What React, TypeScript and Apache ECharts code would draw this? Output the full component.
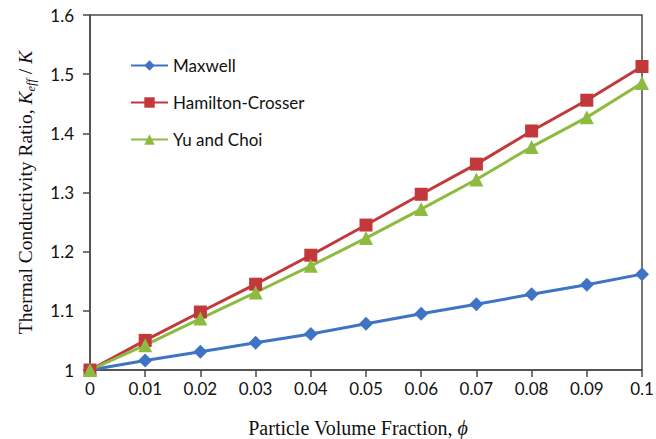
import React, { useEffect, useRef } from "react";
import * as echarts from "echarts";

const phi = [0, 0.01, 0.02, 0.03, 0.04, 0.05, 0.06, 0.07, 0.08, 0.09, 0.1];
const maxwell = [1, 1.016, 1.031, 1.046, 1.061, 1.078, 1.095, 1.111, 1.128, 1.144, 1.162];
const hamiltonCrosser = [1, 1.05, 1.098, 1.145, 1.194, 1.245, 1.297, 1.348, 1.404, 1.456, 1.513];
const yuChoi = [1, 1.042, 1.087, 1.131, 1.176, 1.223, 1.272, 1.322, 1.377, 1.427, 1.485];
const seriesNames = ["Maxwell", "Hamilton-Crosser", "Yu and Choi"];

const fmt = (v: number) => String(parseFloat(v.toFixed(2)));
const axisColor = "#4a4a4a";
const labelFont = "Lato, 'Open Sans', sans-serif";
const serif = "'Liberation Serif', 'DejaVu Serif', serif";

export default function App() {
  const ref = useRef<HTMLDivElement>(null);
  useEffect(() => {
    if (!ref.current) return;
    const chart = echarts.init(ref.current, undefined, { renderer: "svg" });
    const mk = (name: string, vals: number[], color: string, symbol: string, size: number) => ({
      name,
      type: "line",
      data: phi.map((p, i) => [p, vals[i]]),
      symbol,
      symbolSize: size,
      lineStyle: { color, width: 3 },
      itemStyle: { color },
      z: 3,
    });
    chart.setOption({
      animation: false,
      backgroundColor: "#ffffff",
      grid: {
        left: 90,
        right: 14,
        top: 15,
        bottom: 69,
        outerBoundsMode: "none",
        containLabel: false,
        show: true,
        borderColor: axisColor,
        borderWidth: 1.5,
        backgroundColor: "transparent",
      },
      legend: {
        orient: "vertical",
        left: 125,
        top: 52,
        itemGap: 20,
        itemWidth: 37,
        itemHeight: 13,
        data: seriesNames,
        textStyle: { fontFamily: labelFont, fontSize: 17, color: "#111" },
      },
      xAxis: {
        type: "value",
        min: 0,
        max: 0.1,
        interval: 0.01,
        splitLine: { show: false },
        axisLine: { lineStyle: { color: axisColor, width: 1.5 } },
        axisTick: { show: true, length: 7, lineStyle: { color: axisColor, width: 1.5 } },
        axisLabel: {
          formatter: fmt,
          fontFamily: labelFont,
          fontSize: 17,
          color: "#111",
          margin: 10,
        },
        name: "{a|Particle Volume Fraction, }{i|\u03d5}",
        nameLocation: "middle",
        nameGap: 46,
        nameTextStyle: {
          padding: [0, 16, 0, 0],
          rich: {
            a: { fontFamily: serif, fontSize: 20, color: "#111", lineHeight: 24 },
            i: { fontFamily: serif, fontSize: 20, fontStyle: "italic", color: "#111", lineHeight: 24 },
          },
        },
      },
      yAxis: {
        type: "value",
        min: 1,
        max: 1.6,
        interval: 0.1,
        splitLine: { show: false },
        axisLine: { show: true, lineStyle: { color: axisColor, width: 1.5 } },
        axisTick: { show: true, length: 7, lineStyle: { color: axisColor, width: 1.5 } },
        axisLabel: {
          formatter: fmt,
          fontFamily: labelFont,
          fontSize: 17,
          color: "#111",
          margin: 16,
        },
        name: "{a|Thermal Conductivity Ratio, }{i|K}{s|eff}{a| / }{i|K}",
        nameLocation: "middle",
        nameGap: 53,
        nameRotate: 90,
        nameTextStyle: {
          rich: {
            a: { fontFamily: serif, fontSize: 19.5, color: "#111", lineHeight: 23 },
            i: { fontFamily: serif, fontSize: 19.5, fontStyle: "italic", color: "#111", lineHeight: 23 },
            s: { fontFamily: serif, fontSize: 12.5, fontStyle: "italic", color: "#111", verticalAlign: "bottom", lineHeight: 23, padding: [9, 0, 0, 0] },
          },
        },
      },
      series: [
        mk(seriesNames[0], maxwell, "#3F74C4", "diamond", 14),
        mk(seriesNames[1], hamiltonCrosser, "#C3393B", "rect", 13),
        mk(seriesNames[2], yuChoi, "#8DBB40", "triangle", 14),
      ],
    });
    return () => chart.dispose();
  }, []);
  return (
    <div
      ref={ref}
      style={{ position: "fixed", left: 0, top: 0, width: 656, height: 439 }}
    />
  );
}
